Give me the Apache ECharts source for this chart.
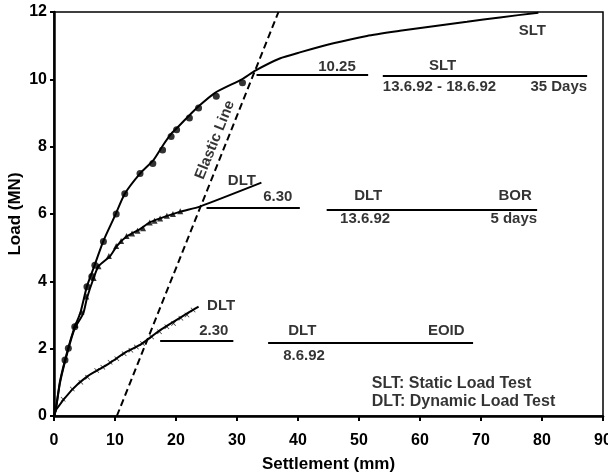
<!DOCTYPE html>
<html>
<head>
<meta charset="utf-8">
<script src="https://cdn.jsdelivr.net/npm/echarts@6/dist/echarts.min.js"></script>
<style>
  html, body {margin: 0; padding: 0; background: #fff;}
  #chart {width: 608px; height: 475px;}
</style>
</head>
<body>
<div id="chart"></div>
<script>
// axis ticks
const settlementTicks = [0, 10, 20, 30, 40, 50, 60, 70, 80, 90];
const loadTicks = [0, 2, 4, 6, 8, 10, 12];

// SLT: fitted curve + measured points  [settlement (mm), load (MN)]
const sltCurve = [
  [0, 0], [0.3, 0.2], [1.0, 1.05], [2.3, 2.0], [3.4, 2.65], [4.3, 3.05], [5.4, 3.85],
  [6.7, 4.5], [8.1, 5.2], [10.0, 5.95], [11.6, 6.6], [14.1, 7.2], [16.3, 7.6],
  [17.9, 8.05], [19.3, 8.4], [20.4, 8.6], [22.3, 8.95], [23.7, 9.2], [26.4, 9.6],
  [30.8, 10.0], [33.0, 10.26], [37.0, 10.62], [40.3, 10.8], [45.8, 11.07],
  [51.3, 11.29], [56.7, 11.44], [62.2, 11.58], [67.7, 11.71], [73.1, 11.84], [79.4, 11.98]
];
const sltPoints = [
  [1.8, 1.66], [2.35, 2.01], [3.4, 2.65], [5.4, 3.84], [6.2, 4.14], [6.7, 4.48],
  [8.1, 5.18], [10.2, 6.0], [11.6, 6.6], [14.1, 7.2], [16.2, 7.5], [17.8, 7.9],
  [19.2, 8.3], [20.1, 8.5], [22.2, 8.85], [23.7, 9.15], [26.6, 9.5], [30.9, 9.9]
];

// DLT BOR (13.6.92)
const dltBorCurve = [
  [0, 0], [0.3, 0.2], [1.0, 1.0], [2.3, 1.95], [3.4, 2.6], [4.8, 3.05], [5.4, 3.5],
  [6.5, 4.1], [7.3, 4.45], [9.2, 4.75], [10.3, 5.05], [11.9, 5.33], [14.1, 5.55],
  [15.7, 5.75], [17.4, 5.87], [20.7, 6.07], [23.9, 6.22], [34.0, 6.93]
];
const dltBorPoints = [
  [3.5, 2.7], [4.5, 3.1], [5.3, 3.55], [6.5, 4.1], [7.3, 4.45], [9.0, 4.75],
  [10.2, 5.05], [11.0, 5.2], [11.9, 5.35], [12.8, 5.42], [13.7, 5.5], [14.6, 5.58],
  [15.7, 5.75], [16.5, 5.8], [17.4, 5.87], [18.5, 5.95], [19.5, 6.0], [20.7, 6.08]
];

// DLT EOID (8.6.92)
const dltEoidCurve = [
  [0, 0], [0.4, 0.2], [2.9, 0.77], [5.4, 1.17], [8.6, 1.51], [11.9, 1.91],
  [14.1, 2.11], [17.4, 2.55], [20.5, 2.9], [23.7, 3.25]
];
const dltEoidPoints = [
  [1.5, 0.5], [3.0, 0.8], [4.4, 1.0], [5.5, 1.15], [7.0, 1.35], [8.0, 1.45],
  [9.2, 1.6], [10.3, 1.7], [11.5, 1.85], [12.6, 1.95], [13.5, 2.05], [14.5, 2.15],
  [16.0, 2.35], [17.3, 2.5], [18.5, 2.65], [19.6, 2.75], [20.8, 2.9], [21.8, 3.0], [22.8, 3.15]
];

const elasticLine = [[10.3, 0], [36.8, 12]];

// capacity / table rules  [x from, x to, load]
const ruleLines = [
  [33.2, 51.5, 10.15], [53.9, 87.4, 10.1],
  [25.0, 40.3, 6.2], [44.7, 79.2, 6.14],
  [17.4, 29.4, 2.24], [35.1, 68.7, 2.18]
];

// texts  [text, x, y, align]
const notes = [
  ['10.25', 46.4, 10.37, 'center'],
  ['SLT', 63.7, 10.41, 'center'],
  ['13.6.92 - 18.6.92', 53.9, 9.79, 'left'],
  ['35 Days', 87.4, 9.79, 'right'],
  ['SLT', 78.4, 11.43, 'center'],
  ['6.30', 36.7, 6.5, 'center'],
  ['DLT', 51.5, 6.53, 'center'],
  ['BOR', 75.6, 6.53, 'center'],
  ['13.6.92', 51.0, 5.85, 'center'],
  ['5 days', 79.2, 5.85, 'right'],
  ['DLT', 30.8, 6.98, 'center'],
  ['DLT', 27.4, 3.27, 'center'],
  ['2.30', 26.2, 2.52, 'center'],
  ['DLT', 40.7, 2.52, 'center'],
  ['EOID', 64.3, 2.52, 'center'],
  ['8.6.92', 41.0, 1.80, 'center']
];
const legendNotes = [
  ['SLT: Static Load Test', 52.1, 0.97],
  ['DLT: Dynamic Load Test', 52.1, 0.42]
];
const elasticNote = ['Elastic Line', 26.4, 8.2];

const font = "'Liberation Sans', Arial, sans-serif";
const crossSymbol = 'path://M0,1L1,0L5,4L9,0L10,1L6,5L10,9L9,10L5,6L1,10L0,9L4,5Z';

const myChart = echarts.init(document.getElementById('chart'));

const curve = (data) => ({
  type: 'line',
  data: data,
  smooth: 0.2,
  showSymbol: false,
  silent: true,
  lineStyle: {color: '#000', width: 2},
  z: 3
});
const marks = (data, symbol, size) => ({
  type: 'scatter',
  data: data,
  symbol: symbol,
  symbolSize: size,
  silent: true,
  itemStyle: {color: '#000'},
  z: 4
});
const textStyle = {
  color: '#000',
  fontFamily: font,
  fontWeight: 'bold'
};

myChart.setOption({
  animation: false,
  backgroundColor: '#fff',
  grid: {
    left: 54, right: 5, top: 12, bottom: 59,
    outerBoundsMode: 'none',
    containLabel: false,
    show: true, borderColor: '#000', borderWidth: 1.5
  },
  xAxis: {
    type: 'value',
    min: settlementTicks[0],
    max: settlementTicks[settlementTicks.length - 1],
    interval: settlementTicks[1] - settlementTicks[0],
    name: 'Settlement (mm)',
    nameLocation: 'middle',
    nameGap: 40,
    nameMoveOverlap: false,
    nameTextStyle: {...textStyle, fontSize: 17},
    splitLine: {show: false},
    axisLine: {lineStyle: {color: '#000', width: 2.5}},
    axisTick: {length: 5, lineStyle: {color: '#000', width: 2}},
    axisLabel: {...textStyle, fontSize: 16, margin: 17}
  },
  yAxis: {
    type: 'value',
    min: loadTicks[0],
    max: loadTicks[loadTicks.length - 1],
    interval: loadTicks[1] - loadTicks[0],
    name: 'Load (MN)',
    nameLocation: 'middle',
    nameGap: 30,
    nameMoveOverlap: false,
    nameTextStyle: {...textStyle, fontSize: 17},
    splitLine: {show: false},
    axisLine: {show: true, lineStyle: {color: '#000', width: 2.5}},
    axisTick: {show: true, length: 4, lineStyle: {color: '#000', width: 2}},
    axisLabel: {...textStyle, fontSize: 16, margin: 7}
  },
  series: [
    curve(sltCurve),
    curve(dltBorCurve),
    curve(dltEoidCurve),
    marks(sltPoints, 'circle', 7),
    marks(dltBorPoints, 'triangle', 6),
    marks(dltEoidPoints, crossSymbol, 5),
    {
      type: 'line',
      data: elasticLine,
      showSymbol: false,
      silent: true,
      lineStyle: {color: '#000', width: 2, type: [7, 4]},
      markLine: {
        silent: true,
        symbol: ['none', 'none'],
        label: {show: false},
        lineStyle: {color: '#000', width: 1.8, type: 'solid'},
        data: ruleLines.map(r => [{coord: [r[0], r[2]]}, {coord: [r[1], r[2]]}])
      }
    },
    {
      type: 'scatter',
      symbolSize: 1,
      silent: true,
      itemStyle: {color: 'rgba(0,0,0,0)'},
      label: {show: true, position: 'inside', formatter: '{b}', ...textStyle, fontSize: 15},
      data: notes.map(n => ({name: n[0], value: [n[1], n[2]], label: {align: n[3]}}))
        .concat(legendNotes.map(n => ({name: n[0], value: [n[1], n[2]], label: {align: 'left', fontSize: 16}})))
        .concat([{name: elasticNote[0], value: [elasticNote[1], elasticNote[2]], label: {rotate: 68, fontSize: 15}}]),
      z: 5
    }
  ]
});
</script>
</body>
</html>
